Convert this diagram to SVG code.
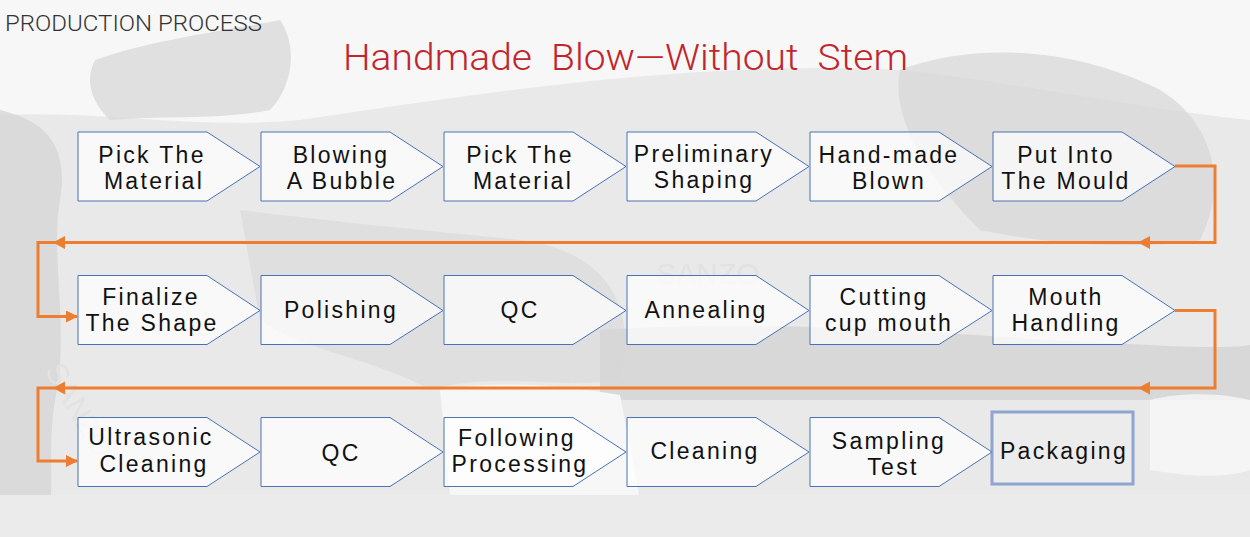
<svg xmlns="http://www.w3.org/2000/svg" width="1250" height="537" viewBox="0 0 1250 537">
<defs>
<style>
.box{fill:#ffffff;fill-opacity:0.72;stroke:#4a72b4;stroke-width:1}
.lbl{font-family:"Liberation Sans",Arial,sans-serif;font-size:23px;letter-spacing:2.3px;fill:#111;text-anchor:middle}
.flow{fill:none;stroke:#ed7d31;stroke-width:3;stroke-linejoin:miter}
.bg1{fill:#d6d6d6}
.bg2{fill:#f7f7f7}
.wm{font-family:"Liberation Sans",Arial,sans-serif;font-size:30px;fill:#e2e2e2}
</style>
<marker id="ah" viewBox="0 0 12 12" refX="11" refY="6" markerWidth="12" markerHeight="12" markerUnits="userSpaceOnUse" orient="auto">
<path d="M0,0 L12,6 L0,12 Z" fill="#ed7d31"/>
</marker>
</defs>

<g id="background">
<rect x="0" y="0" width="1250" height="537" fill="#e9e9e9"/>
<path class="bg2" d="M0,0 H1250 V120 C1150,110 1000,80 900,70 C700,60 500,90 300,120 C200,130 100,110 0,115 Z"/>
<path class="bg1" d="M95,60 C150,40 230,30 280,20 C300,50 290,90 270,110 C220,120 160,115 110,120 C90,100 85,80 95,60 Z" opacity="0.7"/>
<path class="bg1" d="M0,110 C40,120 70,140 60,200 C50,260 70,330 55,400 C45,460 60,510 40,537 H0 Z" opacity="0.8"/>
<path class="bg1" d="M900,70 C980,40 1080,50 1160,90 C1210,120 1230,180 1200,240 C1150,250 1050,245 980,230 C930,180 890,120 900,70 Z" opacity="0.7"/>
<path class="bg1" d="M240,210 C320,220 420,230 520,240 C600,250 640,300 620,380 C560,390 500,370 430,390 C380,360 300,350 260,320 Z" opacity="0.5"/>
<path class="bg1" d="M600,330 C750,320 900,330 1050,340 C1150,345 1220,350 1250,345 V400 H600 Z" opacity="0.9"/>
<path class="bg2" d="M440,390 C500,380 560,385 620,395 L640,500 C580,510 500,505 450,495 Z"/>
<path class="bg2" d="M1150,400 C1190,390 1230,395 1250,400 V470 C1220,480 1180,475 1150,470 Z" opacity="0.8"/>
<rect x="0" y="495" width="1250" height="42" fill="#ebebeb"/>
<text class="wm" x="708" y="284" text-anchor="middle">SANZO</text>
<text class="wm" x="0" y="0" transform="translate(70,415) rotate(60)" text-anchor="middle">SANZO</text>
</g>

<g id="header">
<text x="5" y="31" font-family="Roboto,'Liberation Sans',sans-serif" font-weight="300" font-size="22" fill="#333" textLength="257" lengthAdjust="spacingAndGlyphs">PRODUCTION PROCESS</text>
<text x="343" y="70" font-family="Roboto,'Liberation Sans',sans-serif" font-weight="300" font-size="37" fill="#c0262c" textLength="565" lengthAdjust="spacingAndGlyphs" xml:space="preserve">Handmade  Blow—Without  Stem</text>
</g>

<g id="connectors">
<path class="flow" d="M1175,166 H1215 V242.5 H38 V316.5 H77" marker-end="url(#ah)"/>
<path d="M1138,242.5 L1150,236 L1150,249 Z" fill="#ed7d31"/>
<path d="M53,242.5 L65,236 L65,249 Z" fill="#ed7d31"/>
<path class="flow" d="M1175,310.5 H1215 V388 H38 V461 H77" marker-end="url(#ah)"/>
<path d="M1138,388 L1150,381.5 L1150,394.5 Z" fill="#ed7d31"/>
<path d="M53,388 L65,381.5 L65,394.5 Z" fill="#ed7d31"/>
</g>

<g id="n1"><path class="box" d="M78,132 H207 L260,166.5 L207,201 H78 Z"/><text class="lbl" x="152" y="163">Pick The</text><text class="lbl" x="154" y="189">Material</text></g>
<g id="n2"><path class="box" d="M261,132 H390 L443,166.5 L390,201 H261 Z"/><text class="lbl" x="341" y="163">Blowing</text><text class="lbl" x="342" y="189">A Bubble</text></g>
<g id="n3"><path class="box" d="M444,132 H573 L626,166.5 L573,201 H444 Z"/><text class="lbl" x="520" y="163">Pick The</text><text class="lbl" x="523" y="189">Material</text></g>
<g id="n4"><path class="box" d="M627,132 H756 L809,166.5 L756,201 H627 Z"/><text class="lbl" x="704" y="162">Preliminary</text><text class="lbl" x="704" y="188">Shaping</text></g>
<g id="n5"><path class="box" d="M810,132 H939 L992,166.5 L939,201 H810 Z"/><text class="lbl" x="889" y="163">Hand-made</text><text class="lbl" x="889" y="189">Blown</text></g>
<g id="n6"><path class="box" d="M993,132 H1122 L1175,166.5 L1122,201 H993 Z"/><text class="lbl" x="1066" y="163">Put Into</text><text class="lbl" x="1066" y="189">The Mould</text></g>

<g id="n7"><path class="box" d="M78,275.5 H207 L260,310.5 L207,344.5 H78 Z"/><text class="lbl" x="151" y="305">Finalize</text><text class="lbl" x="152" y="331">The Shape</text></g>
<g id="n8"><path class="box" d="M261,275.5 H390 L443,310.5 L390,344.5 H261 Z"/><text class="lbl" x="341" y="318">Polishing</text></g>
<g id="n9"><path class="box" d="M444,275.5 H573 L626,310.5 L573,344.5 H444 Z"/><text class="lbl" x="520" y="318">QC</text></g>
<g id="n10"><path class="box" d="M627,275.5 H756 L809,310.5 L756,344.5 H627 Z"/><text class="lbl" x="706" y="318">Annealing</text></g>
<g id="n11"><path class="box" d="M810,275.5 H939 L992,310.5 L939,344.5 H810 Z"/><text class="lbl" x="884" y="305">Cutting</text><text class="lbl" x="889" y="331">cup mouth</text></g>
<g id="n12"><path class="box" d="M993,275.5 H1122 L1175,310.5 L1122,344.5 H993 Z"/><text class="lbl" x="1066" y="305">Mouth</text><text class="lbl" x="1066" y="331">Handling</text></g>

<g id="n13"><path class="box" d="M78,417.5 H207 L260,452 L207,486.5 H78 Z"/><text class="lbl" x="151" y="445">Ultrasonic</text><text class="lbl" x="154" y="472">Cleaning</text></g>
<g id="n14"><path class="box" d="M261,417.5 H390 L443,452 L390,486.5 H261 Z"/><text class="lbl" x="341" y="461">QC</text></g>
<g id="n15"><path class="box" d="M444,417.5 H573 L626,452 L573,486.5 H444 Z"/><text class="lbl" x="517" y="446">Following</text><text class="lbl" x="520" y="472">Processing</text></g>
<g id="n16"><path class="box" d="M627,417.5 H756 L809,452 L756,486.5 H627 Z"/><text class="lbl" x="705" y="459">Cleaning</text></g>
<g id="n17"><path class="box" d="M810,417.5 H939 L992,452 L939,486.5 H810 Z"/><text class="lbl" x="889" y="449">Sampling</text><text class="lbl" x="893" y="475">Test</text></g>
<g id="n18"><rect x="992" y="412" width="141" height="72" fill="#ffffff" fill-opacity="0.15" stroke="#6f8fc6" stroke-opacity="0.75" stroke-width="3"/><text class="lbl" x="1064" y="459">Packaging</text></g>
</svg>
